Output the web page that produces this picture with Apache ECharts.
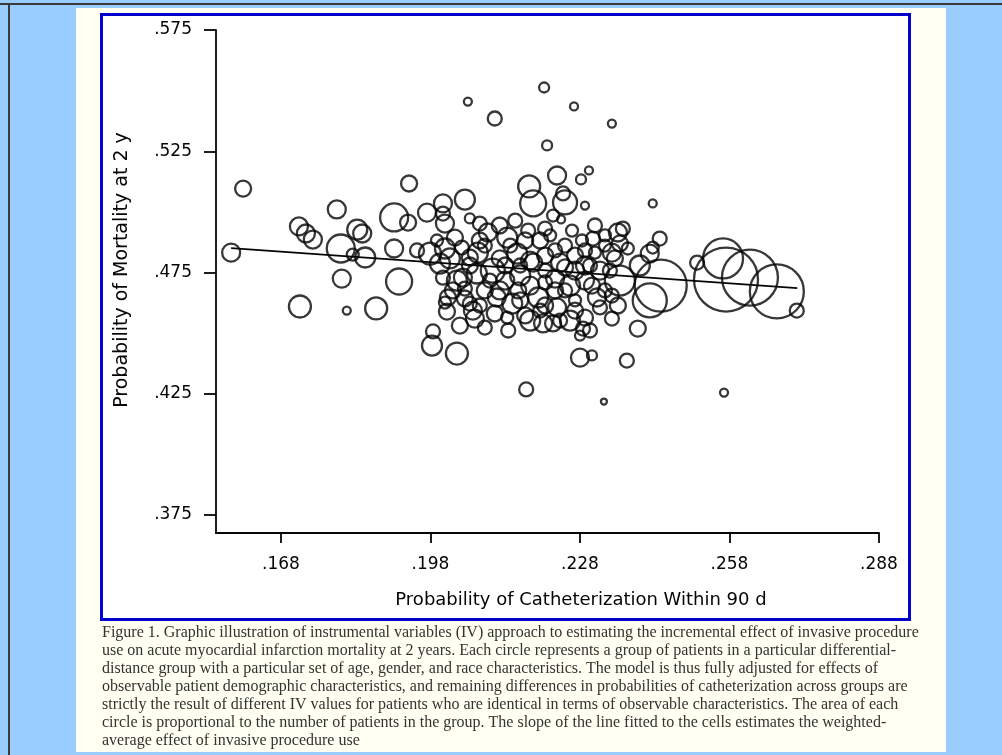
<!DOCTYPE html>
<html>
<head>
<meta charset="utf-8">
<script src="https://cdn.jsdelivr.net/npm/echarts@6/dist/echarts.min.js"></script>
<style>
  html, body { margin: 0; padding: 0; background: #99ccff; }
  #frameTop { position: absolute; left: 0; top: 3px; width: 1002px; height: 2px; background: #3a3a3a; }
  #frameLeft { position: absolute; left: 8px; top: 3px; width: 2px; height: 752px; background: #3a3a3a; }
  #panel { position: absolute; left: 76px; top: 8px; width: 870px; height: 744px; background: #fffff2; }
  #box { position: absolute; left: 100px; top: 13px; width: 805px; height: 602px; border: 3px solid #0000cc; background: #ffffff; }
  #chart { position: absolute; left: 0; top: 0; width: 1002px; height: 755px; }
</style>
</head>
<body>
<div id="frameTop"></div>
<div id="frameLeft"></div>
<div id="panel"></div>
<div id="box"></div>
<div id="chart"></div>
<script>
// Each group: probability of catheterization within 90 d, 2-year mortality, number of patients
const cathRate = [
  0.1580, 0.1604, 0.1716, 0.1730, 0.1744, 0.1718, 0.1792, 0.1812, 0.1802, 0.1800,
  0.1833, 0.1843, 0.1824, 0.1849, 0.1871,
  0.1937, 0.1907, 0.1935, 0.1973, 0.2005, 0.2049, 0.2009, 0.2005, 0.1907, 0.1953,
  0.1979, 0.2009, 0.2019, 0.1917, 0.2005, 0.2033, 0.2015, 0.2009, 0.2013, 0.1985,
  0.1983, 0.2033, 0.1999, 0.2025, 0.2045,
  0.2059, 0.2079, 0.2095, 0.2043, 0.2059, 0.2075, 0.2049, 0.2059, 0.2073, 0.2099,
  0.2105, 0.2069, 0.2089, 0.2109, 0.2136, 0.2134, 0.2144, 0.2134, 0.2178, 0.2154,
  0.2109, 0.2055, 0.2172, 0.2119, 0.2160, 0.2130, 0.2156, 0.2089, 0.2065,
  0.2186, 0.2234, 0.2282, 0.2298, 0.2250, 0.2246, 0.2226, 0.2242, 0.2290, 0.2264,
  0.2284, 0.2306, 0.2320, 0.2340, 0.2360, 0.2280, 0.2304, 0.2280, 0.2286, 0.2290,
  0.2260, 0.2226, 0.2206, 0.2180, 0.2314, 0.2320, 0.2234, 0.2210, 0.2250, 0.2208,
  0.2268, 0.2214, 0.2344, 0.2328, 0.2210, 0.2230, 0.2240, 0.2270, 0.2290, 0.2200,
  0.2220, 0.2180, 0.2196, 0.2230, 0.2260, 0.2290, 0.2300, 0.2270, 0.2176, 0.2310,
  0.2344, 0.2330,
  0.2356, 0.2366, 0.2376, 0.2440, 0.2426, 0.2420, 0.2360, 0.2442, 0.2420, 0.2396,
  0.2374, 0.2426, 0.2400, 0.2515,
  0.2573, 0.2621, 0.2675, 0.2715, 0.2567, 0.2569,
  0.2059, 0.2089, 0.2113, 0.2119, 0.2140, 0.2170, 0.2186, 0.2210, 0.2230, 0.2250,
  0.2270, 0.2304, 0.2344, 0.2350, 0.2330, 0.2160, 0.2180, 0.2210, 0.2240, 0.2039,
  0.2049, 0.2079, 0.2119, 0.2150, 0.2210, 0.2310, 0.2330, 0.2029, 0.1993, 0.2079,
  0.2170, 0.2300, 0.2344, 0.2356, 0.2130, 0.2250, 0.2160, 0.2290, 0.2200, 0.2270
];
const mortality = [
  0.4832, 0.5096, 0.4940, 0.4911, 0.4886, 0.4610, 0.5010, 0.4593, 0.4725, 0.4849,
  0.4927, 0.4911, 0.4824, 0.4812, 0.4602,
  0.5117, 0.4977, 0.4956, 0.4997, 0.5035, 0.5051, 0.4952, 0.4993, 0.4849, 0.4841,
  0.4828, 0.4849, 0.4808, 0.4713, 0.4729, 0.4717, 0.4647, 0.4626, 0.4589, 0.4507,
  0.4449, 0.4416, 0.4787, 0.4676, 0.4729,
  0.4973, 0.4952, 0.4915, 0.4853, 0.4812, 0.4832, 0.4643, 0.4622, 0.4746, 0.4717,
  0.4758, 0.4560, 0.4523, 0.4581, 0.4511, 0.4564, 0.4622, 0.4894, 0.5105, 0.4828,
  0.5385, 0.5455, 0.4268, 0.4676, 0.4738, 0.4779, 0.4676, 0.4861, 0.4593,
  0.5035, 0.5150, 0.5134, 0.5171, 0.5039, 0.5076, 0.4985, 0.4969, 0.5026, 0.4923,
  0.4882, 0.4890, 0.4758, 0.4758, 0.4717, 0.4399, 0.4408, 0.4490, 0.4519, 0.4564,
  0.4552, 0.4540, 0.4540, 0.4552, 0.4647, 0.4606, 0.4606, 0.4709, 0.4771, 0.5513,
  0.5435, 0.5274, 0.5364, 0.4218, 0.4820, 0.4841, 0.4791, 0.4820, 0.4841, 0.4882,
  0.4903, 0.4799, 0.4647, 0.4676, 0.4696, 0.4717, 0.4779, 0.4635, 0.4923, 0.4832,
  0.4832, 0.4676,
  0.4915, 0.4931, 0.4849, 0.4890, 0.4853, 0.4828, 0.4870, 0.4696, 0.4635, 0.4519,
  0.4387, 0.5035, 0.4779, 0.4791,
  0.4721, 0.4729, 0.4672, 0.4593, 0.4808, 0.4255,
  0.4779, 0.4676, 0.4647, 0.4808, 0.4861, 0.4882, 0.4791, 0.4758, 0.4725, 0.4861,
  0.4758, 0.4696, 0.4655, 0.4808, 0.4861, 0.4635, 0.4696, 0.4614, 0.4552, 0.4531,
  0.4684, 0.4882, 0.4944, 0.4964, 0.4931, 0.4944, 0.4903, 0.4894, 0.4882, 0.4614,
  0.4573, 0.4511, 0.4560, 0.4614, 0.4717, 0.4676, 0.4779, 0.4779, 0.4593, 0.4593
];
const patients = [
  405, 320, 405, 405, 405, 605, 405, 80, 405, 980,
  500, 405, 180, 500, 605,
  320, 980, 320, 405, 405, 500, 405, 245, 405, 245,
  605, 500, 500, 845, 245, 500, 320, 180, 320, 245,
  500, 605, 500, 320, 405,
  125, 245, 405, 245, 320, 500, 320, 245, 500, 245,
  720, 405, 245, 320, 245, 180, 500, 500, 605, 500,
  245, 80, 245, 405, 500, 320, 320, 245, 405,
  845, 405, 125, 80, 720, 245, 180, 80, 80, 180,
  180, 245, 405, 245, 1125, 405, 125, 125, 245, 320,
  500, 320, 405, 500, 405, 245, 405, 245, 320, 125,
  80, 125, 80, 45, 320, 245, 405, 320, 245, 320,
  180, 405, 500, 320, 500, 405, 245, 180, 245, 180,
  405, 245,
  405, 245, 180, 245, 180, 405, 320, 3380, 1445, 320,
  245, 80, 500, 245,
  5120, 3920, 3645, 245, 2000, 80,
  320, 320, 405, 320, 245, 320, 405, 245, 405, 245,
  405, 320, 245, 320, 180, 320, 405, 320, 245, 320,
  245, 320, 320, 245, 245, 245, 180, 320, 180, 245,
  320, 245, 245, 320, 405, 245, 245, 405, 245, 320
];

// Weighted least-squares line through the groups (end points)
const fitCath = [0.1580, 0.2716];
const fitMortality = [0.4851, 0.4686];

const xTicks = [0.168, 0.198, 0.228, 0.258, 0.288];
const yTicks = [0.375, 0.425, 0.475, 0.525, 0.575];

const xTitle = 'Probability of Catheterization Within 90 d';
const yTitle = 'Probability of Mortality at 2 y';

const captionLines = [
  'Figure 1. Graphic illustration of instrumental variables (IV) approach to estimating the incremental effect of invasive procedure',
  'use on acute myocardial infarction mortality at 2 years. Each circle represents a group of patients in a particular differential-',
  'distance group with a particular set of age, gender, and race characteristics. The model is thus fully adjusted for effects of',
  'observable patient demographic characteristics, and remaining differences in probabilities of catheterization across groups are',
  'strictly the result of different IV values for patients who are identical in terms of observable characteristics. The area of each',
  'circle is proportional to the number of patients in the group. The slope of the line fitted to the cells estimates the weighted-',
  'average effect of invasive procedure use'
];

const INK = '#050505';
const SANS = "'DejaVu Sans', 'Liberation Sans', Arial, sans-serif";
const tickFmt = v => v.toFixed(3).replace(/^0/, '');

const groups = cathRate.map((x, i) => [x, mortality[i], patients[i]]);
const fitPoints = fitCath.map((x, i) => [x, fitMortality[i]]);

const chart = echarts.init(document.getElementById('chart'), null, { renderer: 'canvas' });

const captionGraphics = captionLines.map((line, i) => ({
  type: 'text',
  x: 102,
  y: 633 + i * 17.9,
  silent: true,
  style: {
    text: line,
    font: "16px 'Liberation Serif', 'Times New Roman', serif",
    fill: '#333333',
    verticalAlign: 'middle'
  }
}));

chart.setOption({
  backgroundColor: 'transparent',
  animation: false,
  grid: { left: 216, right: 123, top: 30, bottom: 222, containLabel: false },
  xAxis: {
    type: 'value',
    min: 0.15496,
    max: 0.288,
    axisLine: { show: true, lineStyle: { color: INK, width: 1.8 } },
    axisTick: { show: true, length: 10, inside: false, customValues: xTicks, lineStyle: { color: INK, width: 1.8 } },
    axisLabel: { customValues: xTicks, formatter: tickFmt, margin: 23, fontSize: 17, fontFamily: SANS, color: INK },
    splitLine: { show: false }
  },
  yAxis: {
    type: 'value',
    min: 0.3676,
    max: 0.575,
    axisLine: { show: true, lineStyle: { color: INK, width: 1.8 } },
    axisTick: { show: true, length: 12, inside: false, customValues: yTicks, lineStyle: { color: INK, width: 1.8 } },
    axisLabel: { customValues: yTicks, formatter: tickFmt, margin: 24, fontSize: 17, fontFamily: SANS, color: INK },
    splitLine: { show: false }
  },
  graphic: [
    {
      type: 'text', x: 581, y: 600, silent: true,
      style: { text: xTitle, font: '18px ' + SANS, fill: INK, align: 'center', verticalAlign: 'middle' }
    },
    {
      type: 'text', x: 122, y: 270, rotation: Math.PI / 2, silent: true,
      style: { text: yTitle, font: '19px ' + SANS, fill: INK, align: 'center', verticalAlign: 'middle' }
    }
  ].concat(captionGraphics),
  series: [
    {
      type: 'scatter',
      data: groups,
      symbol: 'circle',
      symbolSize: d => 2 * Math.sqrt(d[2] / 5),
      itemStyle: { color: 'rgba(0,0,0,0)', borderColor: INK, borderWidth: 2.3 },
      emphasis: { disabled: true },
      silent: true,
      z: 2
    },
    {
      type: 'line',
      data: fitPoints,
      symbol: 'none',
      lineStyle: { color: INK, width: 1.7 },
      silent: true,
      z: 3
    }
  ]
});
</script>
</body>
</html>
